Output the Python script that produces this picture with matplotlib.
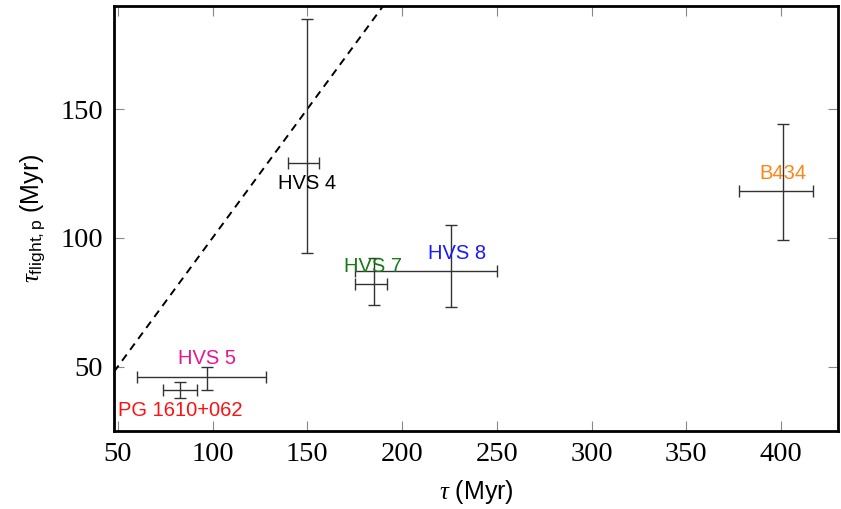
import matplotlib
matplotlib.use("Agg")
import matplotlib.pyplot as plt
import numpy as np

names = ["HVS 4", "HVS 5", "PG 1610+062", "HVS 7", "HVS 8", "B434"]
tau = [150, 97, 83, 185, 226, 401]
tau_err_lo = [10, 37, 9, 10, 51, 23]
tau_err_hi = [6, 31, 9, 7, 24, 16]
tflight = [129, 46, 41, 82, 87, 118]
tflight_err_lo = [35, 5, 3, 8, 14, 19]
tflight_err_hi = [56, 4, 3, 10, 18, 26]
label_colors = ["black", "#e8168e", "#ff1010", "#167a16", "#1a1aff", "#ff8418"]
label_x = [150, 97, 83, 184.5, 229, 401]
label_y = [121, 53, 33, 89, 94, 125]

xlim = (48, 430)
ylim = (25, 190)
xticks = [50, 100, 150, 200, 250, 300, 350, 400]
yticks = [50, 100, 150]

plt.rcParams['mathtext.fontset'] = 'custom'
plt.rcParams['mathtext.rm'] = 'Liberation Sans'
plt.rcParams['mathtext.sf'] = 'Liberation Sans'
plt.rcParams['mathtext.it'] = 'Liberation Serif:italic'
fig = plt.figure(figsize=(8.41, 5.09), dpi=100)
ax = fig.add_axes([114/841, 1-431/509, (838-114)/841, (431-6)/509])

# one-to-one line
line = np.array(xlim)
ax.plot(line, line, ls=(0, (4, 3)), color="black", lw=1.4)

for i in range(len(names)):
    ax.errorbar(tau[i], tflight[i],
                xerr=[[tau_err_lo[i]], [tau_err_hi[i]]],
                yerr=[[tflight_err_lo[i]], [tflight_err_hi[i]]],
                fmt="none", ecolor="#333333", elinewidth=1.0, capsize=4, capthick=1.0)
    ax.text(label_x[i], label_y[i], names[i], color=label_colors[i],
            ha="center", va="center", fontsize=14.5, family="Liberation Sans")

ax.set_xlim(*xlim)
ax.set_ylim(*ylim)
ax.set_xticks(xticks)
ax.set_yticks(yticks)
ax.tick_params(direction="in", length=7, width=0.8, color="#888888",
               top=True, right=True, labelsize=20.5, pad=8)
for lab in ax.get_xticklabels() + ax.get_yticklabels():
    lab.set_family("Liberation Serif")
for s in ax.spines.values():
    s.set_linewidth(2.0)

ax.set_xlabel(r"$\tau$ (Myr)", fontsize=18, family="Liberation Sans", labelpad=8)
ax.set_ylabel(r"$\tau_{\mathrm{flight,p}}$ (Myr)", fontsize=18, family="Liberation Sans", labelpad=9)

fig.savefig("out.png", dpi=100)
